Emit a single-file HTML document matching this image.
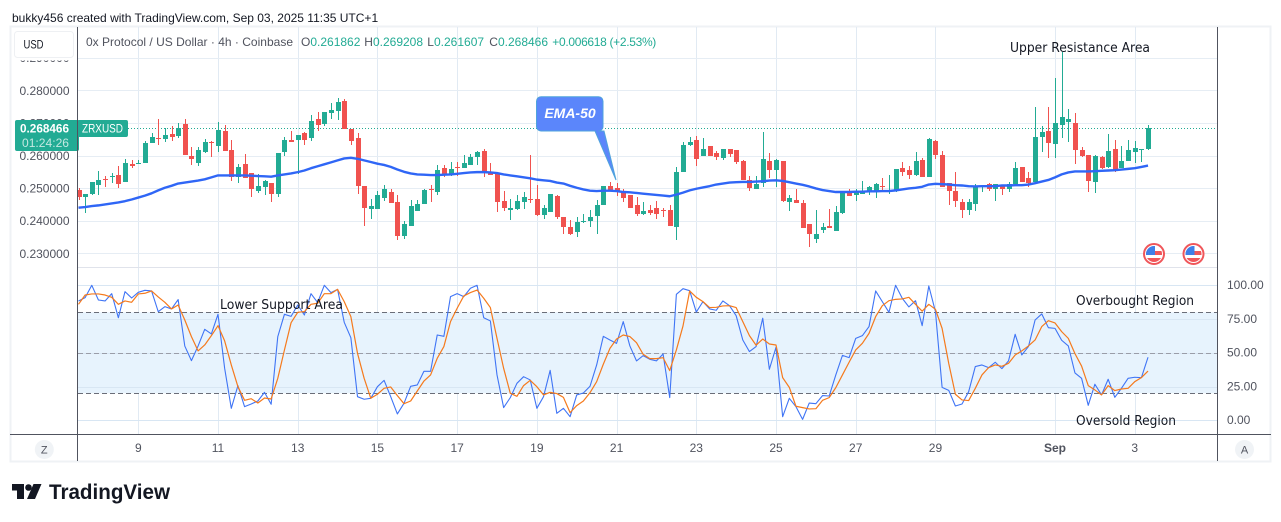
<!DOCTYPE html>
<html lang="en">
<head>
<meta charset="utf-8">
<title>ZRXUSD 4h chart</title>
<style>
html,body{margin:0;padding:0;background:#fff;width:1281px;height:522px;overflow:hidden}
svg{display:block;font-family:"Liberation Sans",sans-serif}
</style>
</head>
<body>
<svg id="chart" width="1281" height="522" viewBox="0 0 1281 522" xmlns="http://www.w3.org/2000/svg">
  <defs>
    <clipPath id="axisClip"><rect x="10" y="60.5" width="67" height="207"></rect></clipPath>
    <clipPath id="flagClip1"><circle cx="1154" cy="254" r="8"></circle></clipPath>
    <clipPath id="flagClip2"><circle cx="1193.5" cy="254" r="8"></circle></clipPath>
  </defs>
  <text x="12" y="22" font-size="12" fill="#131722">bukky456 created with TradingView.com, Sep 03, 2025 11:35 UTC+1</text>
  <rect x="10.5" y="26.5" width="1260" height="435" fill="#fff" stroke="#eff2f5" stroke-width="2"></rect>
  <g id="grid"></g>
  <rect id="band" x="78" y="312.3" width="1139" height="81" fill="#e7f3fd"></rect>
  <g id="gridOver"></g>
  <g id="levels"></g>
  <line id="lastLine" x1="128" x2="1217" stroke="#22ab94" stroke-width="1" stroke-dasharray="1 2"></line>
  <g id="candles"></g>
  <path id="emaLine" fill="none" stroke="#2f66f6" stroke-width="2.4" stroke-linejoin="round"></path>
  <path id="kLine" fill="none" stroke="#3f74f5" stroke-width="1.1" stroke-linejoin="round"></path>
  <path id="dLine" fill="none" stroke="#f57a1d" stroke-width="1.2" stroke-linejoin="round"></path>

  <line x1="78" x2="1217" y1="267.5" y2="267.5" stroke="#e0e3eb"></line>
  <line x1="10" x2="1271" y1="434.5" y2="434.5" stroke="#50535e"></line>
  <line x1="77.5" x2="77.5" y1="27" y2="461" stroke="#50535e"></line>
  <line x1="1217.5" x2="1217.5" y1="27" y2="461" stroke="#50535e"></line>

  <g id="priceAxis" clip-path="url(#axisClip)"></g>
  <g id="stochAxis"></g>
  <g id="timeAxis"></g>

  <g>
    <rect x="14.5" y="31.5" width="59" height="26" rx="3" fill="#fff" stroke="#eef0f3"></rect>
    <text x="33.5" y="48.5" font-size="12" text-anchor="middle" fill="#131722" textLength="20" lengthAdjust="spacingAndGlyphs">USD</text>
  </g>

  <g>
    <rect x="15" y="120" width="64" height="31" rx="2" fill="#22ab94"></rect>
    <rect x="77" y="120" width="51" height="17" rx="2" fill="#22ab94"></rect>
    <line x1="77.5" x2="77.5" y1="120" y2="151" stroke="#50535e"></line>
    <text x="44.5" y="132.5" font-size="12" font-weight="bold" text-anchor="middle" fill="#fff" textLength="49" lengthAdjust="spacingAndGlyphs">0.268466</text>
    <text x="45.5" y="147" font-size="12" text-anchor="middle" fill="#c4e8e1" textLength="47" lengthAdjust="spacingAndGlyphs">01:24:26</text>
    <text x="102.5" y="132.5" font-size="11.5" text-anchor="middle" fill="#fff" textLength="41" lengthAdjust="spacingAndGlyphs">ZRXUSD</text>
  </g>

  <g>
    <text x="86" y="46" font-size="12" fill="#50535e" textLength="207">0x Protocol / US Dollar · 4h · Coinbase</text>
    <text x="301" y="46" font-size="12" fill="#50535e">O<tspan fill="#22ab94">0.261862</tspan></text>
    <text x="364.3" y="46" font-size="12" fill="#50535e">H<tspan fill="#22ab94">0.269208</tspan></text>
    <text x="427.3" y="46" font-size="12" fill="#50535e">L<tspan fill="#22ab94">0.261607</tspan></text>
    <text x="489.3" y="46" font-size="12" fill="#50535e">C<tspan fill="#22ab94">0.268466</tspan></text>
    <text x="552.3" y="46" font-size="12" fill="#22ab94" textLength="104">+0.006618 (+2.53%)</text>
  </g>

  <g>
    <path d="M541 96.7H598.5a4.5 4.5 0 0 1 4.5 4.5V126.5a4.5 4.5 0 0 1 -4.5 4.5H604L616 180L595 131H541a4.5 4.5 0 0 1 -4.5 -4.5V101.2a4.5 4.5 0 0 1 4.5 -4.5Z" fill="#5b86fb" stroke="#4fa3dc" stroke-width="1"></path>
    <text x="570" y="118" font-size="14" font-weight="bold" font-style="italic" text-anchor="middle" fill="#fff">EMA-50</text>
  </g>

  <text x="1010" y="52" font-family="'DejaVu Sans',sans-serif" font-size="13" fill="#131722" textLength="140" lengthAdjust="spacingAndGlyphs">Upper Resistance Area</text>
  <text x="220" y="309" font-family="'DejaVu Sans',sans-serif" font-size="13" fill="#131722" textLength="123" lengthAdjust="spacingAndGlyphs">Lower Support Area</text>
  <text x="1076" y="305" font-family="'DejaVu Sans',sans-serif" font-size="13" fill="#131722" textLength="118" lengthAdjust="spacingAndGlyphs">Overbought Region</text>
  <text x="1076" y="425" font-family="'DejaVu Sans',sans-serif" font-size="13" fill="#131722" textLength="100" lengthAdjust="spacingAndGlyphs">Oversold Region</text>

  <g>
    <circle cx="1154" cy="254" r="10" fill="#fff" stroke="#f0565a" stroke-width="2"></circle>
    <g clip-path="url(#flagClip1)">
      <rect x="1146" y="246" width="16" height="16" fill="#fff"></rect>
      <rect x="1146" y="251" width="16" height="4" fill="#f0565a"></rect>
      <rect x="1146" y="258" width="16" height="5" fill="#f0565a"></rect>
      <rect x="1146" y="246" width="9" height="9" fill="#3f7fe8"></rect>
    </g>
  </g>
  <g>
    <circle cx="1193.5" cy="254" r="10" fill="#fff" stroke="#f0565a" stroke-width="2"></circle>
    <g clip-path="url(#flagClip2)">
      <rect x="1185.5" y="246" width="16" height="16" fill="#fff"></rect>
      <rect x="1185.5" y="251" width="16" height="4" fill="#f0565a"></rect>
      <rect x="1185.5" y="258" width="16" height="5" fill="#f0565a"></rect>
      <rect x="1185.5" y="246" width="9" height="9" fill="#3f7fe8"></rect>
    </g>
  </g>

  <g>
    <circle cx="44.3" cy="449.5" r="9.5" fill="#f0f3f6"></circle>
    <text x="44.3" y="453.5" font-size="11" text-anchor="middle" fill="#50535e">Z</text>
  </g>
  <g>
    <circle cx="1244.5" cy="449.5" r="9.5" fill="#f0f3f6"></circle>
    <text x="1244.5" y="453.5" font-size="11" text-anchor="middle" fill="#50535e">A</text>
  </g>

  <g>
    <path d="M12 484H24V499H17V490.5H12Z" fill="#131722"></path>
    <circle cx="28.5" cy="487.5" r="3.3" fill="#131722"></circle>
    <path d="M33.5 484H41.5L35 499H27Z" fill="#131722"></path>
    <text x="49" y="499" font-size="21" font-weight="bold" fill="#131722" textLength="121" lengthAdjust="spacingAndGlyphs">TradingView</text>
  </g>
</svg>
<script>
const opens = [
0.2494,0.2474,0.2482,0.2510,0.2528,0.2535,0.2540,0.2519,0.2574,0.2575,
0.2577,0.2638,0.2654,0.2651,0.2666,0.2661,0.2697,0.2599,0.2578,0.2611,
0.2641,0.2629,0.2675,0.2617,0.2534,0.2574,0.2546,0.2491,0.2503,0.2516,
0.2482,0.2611,0.2648,0.2648,0.2669,0.2654,0.2712,0.2697,0.2730,0.2736,
0.2767,0.2681,0.2654,0.2506,0.2436,0.2436,0.2470,0.2488,0.2457,0.2353,
0.2384,0.2430,0.2451,0.2497,0.2489,0.2562,0.2543,0.2565,0.2562,0.2571,
0.2595,0.2614,0.2549,0.2543,0.2460,0.2433,0.2436,0.2457,0.2467,0.2467,
0.2418,0.2427,0.2476,0.2411,0.2381,0.2365,0.2395,0.2399,0.2414,0.2448,
0.2506,0.2500,0.2491,0.2479,0.2448,0.2421,0.2433,0.2439,0.2434,0.2433,
0.2381,0.2549,0.2632,0.2648,0.2599,0.2629,0.2608,0.2592,0.2620,0.2617,
0.2583,0.2525,0.2497,0.2516,0.2583,0.2556,0.2583,0.2457,0.2464,0.2454,
0.2390,0.2344,0.2372,0.2384,0.2368,0.2424,0.2488,0.2479,0.2483,0.2488,
0.2488,0.2506,0.2490,0.2494,0.2562,0.2556,0.2540,0.2586,0.2534,0.2644,
0.2602,0.2516,0.2491,0.2457,0.2433,0.2451,0.2503,0.2513,0.2497,0.2506,
0.2497,0.2513,0.2565,0.2531,0.2519,0.2657,0.2675,0.2635,0.2694,0.2703,
0.2700,0.2617,0.2602,0.2519,0.2595,0.2565,0.2620,0.2562,0.2583,0.2611,
0.2618,0.261862];
const highs = [
0.2499,0.2482,0.2518,0.2553,0.2538,0.2547,0.2568,0.2589,0.2586,0.2586,
0.2646,0.2670,0.2712,0.2685,0.2691,0.2699,0.2712,0.2627,0.2626,0.2650,
0.2643,0.2703,0.2694,0.2648,0.2574,0.2605,0.2546,0.2543,0.2525,0.2516,
0.2608,0.2657,0.2675,0.2663,0.2673,0.2724,0.2733,0.2733,0.2761,0.2776,
0.2773,0.2681,0.2669,0.2506,0.2467,0.2491,0.2510,0.2497,0.2479,0.2399,
0.2464,0.2464,0.2497,0.2510,0.2571,0.2571,0.2580,0.2580,0.2602,0.2605,
0.2614,0.2620,0.2577,0.2543,0.2491,0.2467,0.2479,0.2488,0.2602,0.2510,
0.2448,0.2482,0.2479,0.2411,0.2402,0.2411,0.2421,0.2433,0.2464,0.2506,
0.2519,0.2516,0.2497,0.2479,0.2473,0.2457,0.2448,0.2460,0.2439,0.2448,
0.2565,0.2641,0.2657,0.2660,0.2654,0.2629,0.2614,0.2620,0.2620,0.2617,
0.2586,0.2537,0.2537,0.2672,0.2608,0.2589,0.2583,0.2479,0.2497,0.2464,
0.2390,0.2433,0.2393,0.2436,0.2445,0.2488,0.2497,0.2497,0.2522,0.2506,
0.2516,0.2531,0.2540,0.2559,0.2580,0.2568,0.2611,0.2592,0.2654,0.2648,
0.2614,0.2516,0.2549,0.2467,0.2467,0.2513,0.2506,0.2516,0.2513,0.2510,
0.2519,0.2580,0.2565,0.2549,0.2749,0.2691,0.2749,0.2838,0.2918,0.2743,
0.2730,0.2626,0.2602,0.2602,0.2599,0.2666,0.2648,0.2629,0.2648,0.2644,
0.2620,0.269208];
const lows = [
0.2462,0.2425,0.2479,0.2479,0.2504,0.2517,0.2501,0.2519,0.2561,0.2574,
0.2577,0.2638,0.2632,0.2642,0.2646,0.2655,0.2602,0.2571,0.2568,0.2607,
0.2595,0.2611,0.2614,0.2522,0.2517,0.2531,0.2473,0.2485,0.2479,0.2457,
0.2473,0.2599,0.2641,0.2543,0.2632,0.2644,0.2675,0.2691,0.2712,0.2709,
0.2681,0.2632,0.2482,0.2384,0.2405,0.2436,0.2460,0.2454,0.2341,0.2344,
0.2384,0.2430,0.2451,0.2457,0.2479,0.2534,0.2537,0.2537,0.2562,0.2571,
0.2571,0.2534,0.2540,0.2427,0.2430,0.2402,0.2433,0.2436,0.2454,0.2414,
0.2405,0.2427,0.2405,0.2359,0.2356,0.2350,0.2393,0.2381,0.2359,0.2448,
0.2494,0.2476,0.2457,0.2439,0.2414,0.2418,0.2418,0.2405,0.2411,0.2384,
0.2341,0.2549,0.2629,0.2568,0.2599,0.2599,0.2586,0.2586,0.2595,0.2574,
0.2525,0.2491,0.2497,0.2503,0.2531,0.2503,0.2457,0.2430,0.2454,0.2378,
0.2319,0.2332,0.2362,0.2378,0.2368,0.2421,0.2476,0.2460,0.2482,0.2479,
0.2470,0.2494,0.2482,0.2488,0.2537,0.2528,0.2537,0.2534,0.2534,0.2589,
0.2503,0.2448,0.2442,0.2408,0.2418,0.2430,0.2488,0.2491,0.2460,0.2479,
0.2488,0.2513,0.2519,0.2503,0.2513,0.2611,0.2592,0.2592,0.2654,0.2641,
0.2574,0.2595,0.2488,0.2485,0.2559,0.2562,0.2549,0.2562,0.2583,0.2577,
0.2580,0.261607];
const closes = [
0.2474,0.2482,0.2518,0.2525,0.2526,0.2537,0.2514,0.2577,0.2569,0.2577,
0.2638,0.2658,0.2652,0.2663,0.2657,0.2684,0.2602,0.2590,0.2617,0.2641,
0.2639,0.2678,0.2614,0.2534,0.2565,0.2531,0.2497,0.2506,0.2522,0.2482,
0.2608,0.2648,0.2641,0.2663,0.2648,0.2706,0.2694,0.2733,0.2740,0.2764,
0.2682,0.2646,0.2506,0.2439,0.2445,0.2479,0.2497,0.2454,0.2353,0.2390,
0.2445,0.2451,0.2494,0.2494,0.2556,0.2540,0.2559,0.2563,0.2577,0.2595,
0.2611,0.2546,0.2540,0.2457,0.2439,0.2439,0.2460,0.2473,0.2465,0.2418,
0.2439,0.2482,0.2411,0.2381,0.2359,0.2396,0.2399,0.2411,0.2448,0.2506,
0.2494,0.2489,0.2470,0.2439,0.2421,0.2430,0.2423,0.2421,0.2432,0.2384,
0.2549,0.2632,0.2641,0.2589,0.2620,0.2599,0.2595,0.2620,0.2605,0.2580,
0.2525,0.2500,0.2513,0.2589,0.2556,0.2586,0.2460,0.2470,0.2454,0.2378,
0.2359,0.2359,0.2381,0.2378,0.2427,0.2488,0.2476,0.2488,0.2488,0.2503,
0.2513,0.2504,0.2494,0.2559,0.2549,0.2540,0.2583,0.2534,0.2651,0.2602,
0.2503,0.2491,0.2460,0.2433,0.2457,0.2503,0.2506,0.2497,0.2513,0.2497,
0.2513,0.2562,0.2519,0.2516,0.2657,0.2672,0.2638,0.2700,0.2718,0.2712,
0.2617,0.2599,0.2522,0.2599,0.2562,0.2614,0.2552,0.2583,0.2617,0.2623,
0.2620,0.268466];
const ema50 = [
0.2440,0.2442,0.2445,0.2447,0.2450,0.2453,0.2456,0.2460,0.2465,0.2471,
0.2477,0.2484,0.2493,0.2501,0.2507,0.2514,0.2517,0.2520,0.2523,0.2527,
0.2533,0.2539,0.2539,0.2539,0.2539,0.2539,0.2538,0.2537,0.2536,0.2535,
0.2539,0.2542,0.2545,0.2549,0.2554,0.2561,0.2567,0.2573,0.2579,0.2585,
0.2591,0.2593,0.2590,0.2585,0.2580,0.2575,0.2571,0.2565,0.2557,0.2550,
0.2545,0.2542,0.2541,0.2540,0.2540,0.2541,0.2542,0.2544,0.2546,0.2548,
0.2549,0.2549,0.2548,0.2546,0.2542,0.2539,0.2536,0.2533,0.2530,0.2526,
0.2524,0.2522,0.2517,0.2514,0.2507,0.2501,0.2496,0.2492,0.2491,0.2492,
0.2492,0.2491,0.2488,0.2487,0.2485,0.2483,0.2481,0.2479,0.2477,0.2475,
0.2480,0.2486,0.2493,0.2498,0.2502,0.2506,0.2511,0.2514,0.2517,0.2518,
0.2519,0.2519,0.2520,0.2521,0.2523,0.2524,0.2522,0.2518,0.2514,0.2510,
0.2505,0.2499,0.2494,0.2491,0.2488,0.2488,0.2488,0.2489,0.2489,0.2490,
0.2490,0.2491,0.2491,0.2493,0.2496,0.2499,0.2501,0.2504,0.2511,0.2513,
0.2512,0.2511,0.2509,0.2508,0.2506,0.2505,0.2506,0.2506,0.2506,0.2508,
0.2508,0.2509,0.2509,0.2511,0.2515,0.2520,0.2525,0.2533,0.2542,0.2548,
0.2551,0.2551,0.2551,0.2552,0.2553,0.2554,0.2555,0.2557,0.2559,0.2561,
0.2565,0.2569];
const stochK = [
88.4,90.9,100,89.1,88.4,93.8,76,95.3,90.6,94.8,
96.3,95.8,80.5,84.2,82.5,89.4,55,44.2,55,67.4,
64,78.5,38.5,8.9,25.7,10.1,12.1,14.3,20.7,11.9,
62,78.5,77,85.4,78,93.8,87.2,100,94.6,97,
72.6,61.2,17.5,15.6,16.3,24.9,29.6,17.5,4.7,12.6,
25.2,26.2,36.3,36.3,63.2,62.2,91.6,93.8,91.6,97.8,
100,76,73.6,33.6,9.4,16.8,27.4,32.3,29.9,8.9,
17.5,37,5.2,8.9,2.7,18.8,20.2,25.2,41,62.2,
59.5,57,73.1,55.1,44,47.9,45.2,44,49.1,16.8,
93.3,97.5,96,80.2,87.9,82.5,81.5,88.4,84.9,77.5,
59.5,50.9,54.6,75.6,37.8,54.1,2.7,16.3,10.1,0.7,
12.8,12.3,18.3,18,33.6,48.1,46.4,60.7,62.7,69.4,
95.8,87.9,80,100,90.4,84,88.6,70.1,99.5,80.5,
24.4,22.2,10.6,12.1,21.2,39.8,41,39,43,38.3,
44,63.7,48.4,54.6,74.3,78.8,68.6,68.1,59.3,55.1,
35.1,31.1,11.1,26.7,18.8,30.4,17,23.7,31.1,31.9,
31.6,46.7];
const stochD = [
85.9,92.8,93.6,93.6,92.8,91.1,85.9,88.4,87.4,93.6,
94.1,95.8,91.4,87.4,82.5,85.4,74.3,62,51.4,55.8,
62.7,70.1,58.8,41,24.9,14.8,16,12.8,16.5,15.8,
31.1,52.1,72.3,80,80.5,85.9,86.7,93.8,93.8,97,
87.9,76.8,49.6,31.1,16.3,19.3,23.7,24.7,18.3,12.3,
14.3,21.7,29.1,33.6,45.9,54.6,73.1,83,92.1,94.6,
96.5,90.4,83.5,60.7,38.5,20,17.8,25.7,29.6,24.9,
18.8,20.7,19.8,17,5.7,10.9,14.3,20.5,28.6,41.5,
53.3,60.2,63.2,62,57.5,48.9,45.7,45.7,46.4,36.8,
52.1,69.9,95.8,91.1,87.9,83.5,83.7,84.7,84.9,83.5,
73.1,62.7,55.6,60.2,56.5,55.8,31.6,24.4,10.4,9.4,
8.4,8.6,14.8,16.8,24.2,33.6,43,52.1,57,64.4,
76.8,84.9,88.6,89.6,89.9,91.1,85.9,80.8,85.9,82.2,
68.1,42.2,19.3,15.1,14.6,23.7,33.6,39,41,40,
42.2,48.4,51.4,55.1,59.5,69.4,73.8,72.1,65.7,60.7,
49.4,40.2,25.7,22.5,18.8,25.7,22,23.2,23.7,28.6,
31.6,36.5];
const priceTicks = [0.29,0.28,0.27,0.26,0.25,0.24,0.23];
const stochTicks = [100,75,50,25,0];
const stochLevels = [80,50,20];
const timeLabels = ['9','11','13','15','17','19','21','23','25','27','29','Sep','3'];
const timeLabelCandles = [9,21,33,45,57,69,81,93,105,117,129,147,159];
const lastPrice = 0.268466;

const NS = 'http://www.w3.org/2000/svg';
const xAt = i => 78.5 + i * 6.643;
const yPrice = p => 90.3 + (0.28 - p) * 3260;
const yStoch = v => 420.3 - v * 1.35;

function make(tag, parent, attrs, text) {
  const el = document.createElementNS(NS, tag);
  for (const k in attrs) el.setAttribute(k, attrs[k]);
  if (text !== undefined) el.textContent = text;
  parent.appendChild(el);
  return el;
}
const gridG = document.getElementById('grid');
const gridOver = document.getElementById('gridOver');
const GRID = '#e6edf4';
timeLabelCandles.forEach(c => {
  const x = Math.round(xAt(c)) + 0.5;
  const el = make('line', gridG, {x1: x, x2: x, y1: 27, y2: 434, stroke: '#e1eaf3'});
  
  
});
priceTicks.forEach(p => {
  const y = Math.round(yPrice(p)) + 0.5;
  const el = make('line', gridG, {x1: 78, x2: 1217, y1: y, y2: y, stroke: GRID});
  
  
  const t = make('text', document.getElementById('priceAxis'), {x: 69.5, y: yPrice(p) + 4.5, 'font-size': 12, 'text-anchor': 'end', fill: '#50535e'}, p.toFixed(6));
  
  
});
stochTicks.forEach(v => {
  const y = Math.round(yStoch(v)) + 0.5;
  const el = make('line', gridOver, {x1: 78, x2: 1217, y1: y, y2: y, stroke: '#d8e6f3'});
  
  
  const t = make('text', document.getElementById('stochAxis'), {x: 1227, y: yStoch(v) + 3.8, 'font-size': 12, fill: '#50535e'}, v.toFixed(2));
  
  
});
document.getElementById('band').setAttribute('y', yStoch(stochLevels[0]));
document.getElementById('band').setAttribute('height', yStoch(stochLevels[2]) - yStoch(stochLevels[0]));
stochLevels.forEach(v => {
  const y = Math.round(yStoch(v)) + 0.5;
  const el = make('line', document.getElementById('levels'), {x1: 78, x2: 1217, y1: y, y2: y, stroke: v === 50 ? '#9a9da8' : '#6a6d78', 'stroke-dasharray': '5 3'});
  
  
});
timeLabels.forEach((lab, k) => {
  const t = make('text', document.getElementById('timeAxis'), {x: xAt(timeLabelCandles[k]), y: 452, 'font-size': 12, 'text-anchor': 'middle', fill: '#50535e', 'font-weight': lab === 'Sep' ? 'bold' : 'normal'}, lab);
  
  
});
const lastLine = document.getElementById('lastLine');
lastLine.setAttribute('y1', Math.round(yPrice(lastPrice)) + 0.5);
lastLine.setAttribute('y2', Math.round(yPrice(lastPrice)) + 0.5);

const candleG = document.getElementById('candles');
opens.forEach((o, i) => {
  const c = closes[i];
  const color = c >= o ? '#22ab94' : '#f0524f';
  const x = Math.round(xAt(i)) + 0.5;
  const wick = make('line', candleG, {x1: x, x2: x, y1: Math.round(yPrice(highs[i])), y2: Math.round(yPrice(lows[i])), stroke: color, 'stroke-width': 1});
  
  
  const top = Math.round(yPrice(Math.max(o, c)));
  const h = Math.max(1, Math.round(yPrice(Math.min(o, c))) - top);
  const body = make('rect', candleG, {x: x - 2.5, y: top, width: 5, height: h, fill: color});
  
  
});
const linePath = (vals, y) => vals.map((v, i) => (i ? 'L' : 'M') + xAt(i).toFixed(2) + ' ' + y(v).toFixed(2)).join('');
document.getElementById('emaLine').setAttribute('d', linePath(ema50, yPrice));
document.getElementById('kLine').setAttribute('d', linePath(stochK, yStoch));
document.getElementById('dLine').setAttribute('d', linePath(stochD, yStoch));
</script>
</body>
</html>
